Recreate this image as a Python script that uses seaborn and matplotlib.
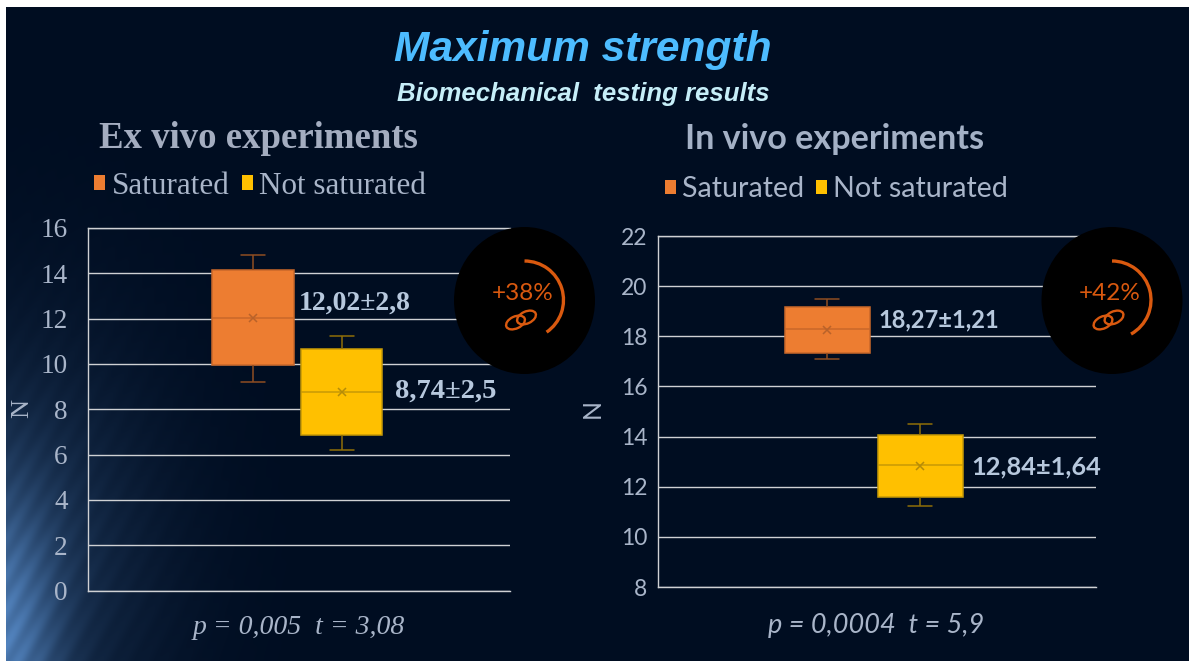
import numpy as np
import pandas as pd
import matplotlib
matplotlib.use("Agg")
import matplotlib.pyplot as plt
from matplotlib.patches import Arc, Ellipse
import seaborn as sns

# values: low whisker, q1, median, q3, high whisker
groups = ["Saturated", "Not saturated"]
ex_saturated = [9.19, 9.94, 12.02, 14.13, 14.82]
ex_not_saturated = [6.21, 6.86, 8.74, 10.64, 11.24]
in_saturated = [17.09, 17.33, 18.28, 19.16, 19.49]
in_not_saturated = [11.22, 11.58, 12.85, 14.07, 14.49]
ex_means = [12.02, 8.74]
in_means = [18.27, 12.84]
ex_labels = ["12,02±2,8", "8,74±2,5"]
in_labels = ["18,27±1,21", "12,84±1,64"]
ex_ticks = [0, 2, 4, 6, 8, 10, 12, 14, 16]
in_ticks = [8, 10, 12, 14, 16, 18, 20, 22]

W, H = 1192, 661
ORANGE, YELLOW = "#ed7d31", "#ffc000"
ORANGE_LINE, YELLOW_LINE = "#8f4d22", "#8f6e08"
TXT = "#a9b5c9"
GRID = "#cfd1d4"
SERIF = "Liberation Serif"
SANS = "Lato"

sns.set_theme(style="white")
fig = plt.figure(figsize=(W / 100, H / 100), dpi=100, facecolor="white")

# background slide with the blue glow in the lower left corner
bg = fig.add_axes([0, 0, 1, 1], zorder=0)
xx, yy = np.meshgrid(np.arange(6, 1189), np.arange(7, 661))
base = np.array([0, 13, 33]) / 255
glow = 0.72 * np.exp(-((xx / 55) ** 2 + ((yy - 650) / 150) ** 2))
glow2 = 0.3 * np.exp(-(((xx - 20) / 135) ** 2 + ((yy - 560) / 220) ** 2))
streak = 0.93 + 0.07 * np.sin((xx * 0.85 + yy * 0.5) * 0.35)
amount = (glow + glow2) * streak
img = base + amount[..., None] * (np.array([85, 135, 195]) / 255 - base)
bg.imshow(np.clip(img, 0, 1), extent=(6, 1189, 661, 7), aspect="auto")
bg.set_xlim(0, W)
bg.set_ylim(H, 0)
bg.axis("off")


def box_panel(rect, saturated, not_saturated, means, ticks, font, xlim, width, legend_at, legend_size, handle, spacing, tick_size, tick_pad):
    left, top, right, bottom = rect
    ax = fig.add_axes([left / W, (H - bottom) / H, (right - left) / W, (bottom - top) / H], zorder=1)
    ax.set_facecolor("none")
    df = pd.DataFrame({
        "panel": ["a"] * 10,
        "group": [groups[0]] * 5 + [groups[1]] * 5,
        "value": saturated + not_saturated,
    })
    sns.boxplot(data=df, x="panel", y="value", hue="group", hue_order=groups, ax=ax,
                palette=[ORANGE, YELLOW], width=width, gap=0.08, whis=(0, 100), saturation=1,
                capwidths=24 / (right - left), linewidth=1.1, fliersize=0)
    ax.set_xlim(*xlim)
    ax.set_ylim(ticks[0], ticks[-1])
    ax.set_yticks(ticks)
    ax.set_xticks([])
    ax.set_xlabel("")
    ax.set_ylabel("")
    ax.yaxis.grid(True, color=GRID, lw=1.0)
    ax.set_axisbelow(True)
    ax.tick_params(axis="y", length=0, pad=tick_pad, labelsize=tick_size, labelcolor=TXT)
    for t in ax.get_yticklabels():
        t.set_fontfamily(font)
    for name, sp in ax.spines.items():
        sp.set_visible(name != "right")
        sp.set_color(GRID)
        sp.set_linewidth(1.0)
    # box outlines and whiskers take a darker shade of their own fill
    for cont, line, fill, m in zip(ax.containers, [ORANGE_LINE, YELLOW_LINE], [ORANGE, YELLOW], means):
        for b in cont.boxes:
            b.set_edgecolor("#c9682a" if fill == ORANGE else "#c79a06")
        for part in list(cont.whiskers) + list(cont.caps):
            part.set_color(line)
        for med in cont.medians:
            med.set_color("#c9682a" if fill == ORANGE else "#c79a06")
            ax.plot([np.mean(med.get_xdata())], [m], marker="x", ms=6, mew=1.1,
                    color="#b9622a" if fill == ORANGE else "#b58c08", zorder=6)
    sns.move_legend(ax, "lower left", bbox_to_anchor=legend_at, bbox_transform=fig.transFigure, ncol=2,
                    frameon=False, title=None, handlelength=handle, handleheight=handle, handletextpad=0.2,
                    columnspacing=spacing, borderpad=0, borderaxespad=0,
                    prop={"family": font, "size": legend_size}, labelcolor=TXT)
    for h in ax.get_legend().get_patches():
        h.set_edgecolor("none")
    return ax


ax1 = box_panel((88, 228, 510, 590.5), ex_saturated, ex_not_saturated, ex_means, ex_ticks, SERIF,
                (-0.496, 0.504), 0.42, (94 / W, (H - 201) / H), 22.4, 0.36, 0.4, 19.6, 14.5)
ax2 = box_panel((658, 236, 1096, 587), in_saturated, in_not_saturated, in_means, in_ticks, SANS,
                (-0.493, 0.507), 0.425, (664.5 / W, (H - 202) / H), 20.6, 0.4, 0.42, 16.5, 7.6)

# everything that sits on the slide itself, placed in picture pixels
top = fig.add_axes([0, 0, 1, 1], zorder=2)
top.set_xlim(0, W)
top.set_ylim(H, 0)
top.axis("off")
top.patch.set_alpha(0)

top.text(583, 50, "Maximum strength", family="Liberation Sans", weight="bold", style="italic",
         size=30.6, color="#4dbcff", ha="center", va="center")
top.text(583.5, 94.5, "Biomechanical  testing results", family="Liberation Sans", weight="bold", style="italic",
         size=18.5, color="#c6eef8", ha="center", va="center")
top.text(258, 139, "Ex vivo experiments", family=SERIF, weight="bold", size=26.5, color="#a4adc0", ha="center", va="center")
top.text(835, 139, "In vivo experiments", family=SANS, weight="bold", size=24.6, color="#a4b1c6", ha="center", va="center")
top.text(22, 408, "N", family=SERIF, size=19, color=TXT, rotation=90, ha="center", va="center")
top.text(592, 408, "N", family=SANS, size=18, color=TXT, rotation=90, ha="center", va="center")
top.text(298.5, 627, "p = 0,005  t = 3,08", family=SERIF, style="italic", size=20, color=TXT, ha="center", va="center")
top.text(876.5, 626, "p = 0,0004  t = 5,9", family=SANS, style="italic", size=19.5, color=TXT, ha="center", va="center")

for (x, y), label, font, size in zip([(298.5, 303), (394.5, 391), (878.5, 320), (971, 467)],
                                     ex_labels + in_labels, [SERIF, SERIF, SANS, SANS], [20, 20.5, 17, 18.3]):
    top.text(x, y, label, family=font, weight="bold", size=size, color="#b7c8dd", ha="left", va="center")

RED = "#d9590f"
for cx, end, pct in [(524.5, -55.5, "+38%"), (1112, -60.8, "+42%")]:
    top.add_patch(Ellipse((cx, 300.5), 141, 147, fc="black", ec="none"))
    # y axis points down here, so the arc angles are mirrored
    top.add_patch(Arc((cx, 300), 78, 78, theta1=-90, theta2=-end, color=RED, lw=2.4))
    top.text(cx - 2, 293, pct, family=SANS, size=17.5, color=RED, ha="center", va="center")
    for dx, dy in [(-5.5, 2.5), (5.5, -2.5)]:
        top.add_patch(Ellipse((cx - 3.5 + dx, 320 + dy), 20, 12, angle=-25, fc="none", ec=RED, lw=1.7))

fig.savefig("out.png", dpi=100, facecolor="white")
